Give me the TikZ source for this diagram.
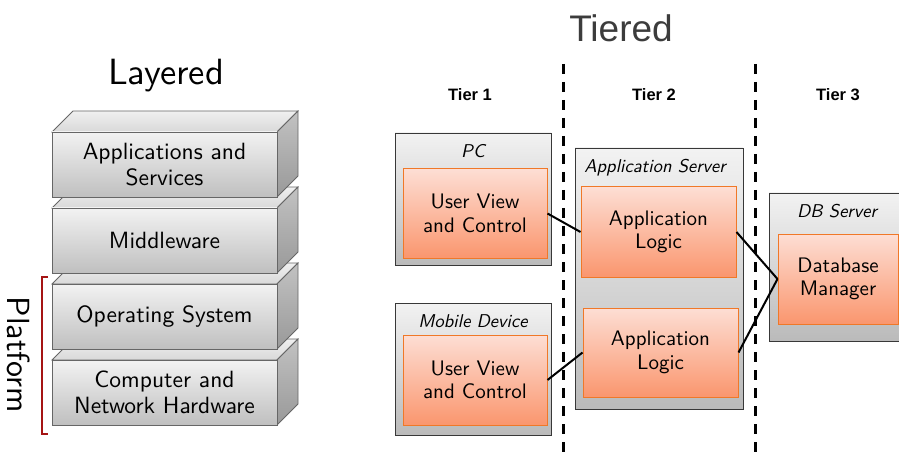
\documentclass[tikz,border=0pt]{standalone}
\usepackage{fontspec}
\setsansfont{lmsans10-regular.otf}[ItalicFont=lmsans10-oblique.otf, BoldFont=lmsans10-bold.otf]
\newfontfamily\arialf{Liberation Sans}
\usetikzlibrary{shadows}
\definecolor{orangetop}{RGB}{253,222,212}
\definecolor{orangebot}{RGB}{250,150,110}
\definecolor{orangeedge}{RGB}{240,120,40}
\definecolor{bracketred}{RGB}{165,20,20}
\definecolor{titlegray}{RGB}{60,60,60}
\tikzset{
  every node/.style={font=\sffamily},
  layerface/.style={draw=black!60, line width=0.8pt, top color=black!5, bottom color=black!25,
    minimum width=225pt, minimum height=65pt, align=center, inner sep=0pt,
    font=\sffamily\fontsize{23.5}{26}\selectfont},
  layertop/.style={draw=black!60, line width=0.8pt, top color=black!6, bottom color=black!15},
  layerside/.style={draw=black!60, line width=0.8pt, top color=black!24, bottom color=black!40},
  container/.style={draw=black!78, line width=0.9pt, top color=black!5, bottom color=black!27,
    drop shadow={shadow xshift=1.2pt, shadow yshift=-1.2pt, fill=black!40}},
  tierlabel/.style={font=\sffamily\itshape\fontsize{18.5}{20}\selectfont},
  component/.style={draw=orangeedge, line width=1pt, top color=orangetop, bottom color=orangebot,
    align=center, inner sep=0pt, font=\sffamily\fontsize{21}{23.5}\selectfont,
    drop shadow={shadow xshift=1.2pt, shadow yshift=-1.2pt, fill=black!35}},
  link/.style={line width=2pt, black},
  divider/.style={line width=3pt, dash pattern=on 10pt off 8pt},
  tiername/.style={font=\arialf\bfseries\fontsize{16.5}{18}\selectfont},
}
% one block of the layer stack: front face node plus its top and right faces
\newcommand{\stackblock}[3]{%
  \path[layertop] (52,#2) -- ++(21,-21) -- ++(225,0) -- ++(-21,21) -- cycle;
  \path[layerside] (277,#2) -- ++(21,-21) -- ++(0,65) -- ++(-21,21) -- cycle;
  \node[layerface] (#1) at (164.5,#2+32.5) {#3};
}
\begin{document}
\begin{tikzpicture}[x=1pt, y=-1pt]
\useasboundingbox (0,0) rectangle (899,457);

% ---------- layered stack ----------
\node (layered) at (166,76) {\fontsize{36.5}{38}\selectfont Layered};
\stackblock{hardware}{360}{Computer and\\Network Hardware}
\stackblock{os}{284}{Operating System}
\stackblock{middleware}{208}{Middleware}
\stackblock{apps}{132}{Applications and\\Services}

\coordinate (brtop) at (42,277);
\coordinate (brbot) at (42,434);
\draw[bracketred, line width=1.6pt] ([xshift=6pt]brtop) -- (brtop) -- (brbot) -- ([xshift=6pt]brbot);
\node[rotate=-90] (platform) at (19,355) {\fontsize{32}{34}\selectfont Platform};

% ---------- tiered layout ----------
\node[text=titlegray] (tiered) at (621,28) {\arialf\fontsize{37}{40}\selectfont Tiered};
\node[tiername] (t1) at (470,95) {Tier 1};
\node[tiername] (t2) at (654,95) {Tier 2};
\node[tiername] (t3) at (838,95) {Tier 3};

\coordinate (d1top) at (563,64);
\coordinate (d1bot) at (563,460);
\coordinate (d2top) at (755,64);
\coordinate (d2bot) at (755,460);
\draw[divider] (d1top) -- (d1bot);
\draw[divider] (d2top) -- (d2bot);

% tier 1 machines
\node[container, minimum width=156pt, minimum height=132pt] (pc) at (473,199) {};
\node[tierlabel] (pclabel) at (473,151) {PC};
\node[component, minimum width=144pt, minimum height=89pt] (uv1) at (475,213.5) {User View\\and Control};

\node[container, minimum width=156pt, minimum height=132pt] (mobile) at (473,369) {};
\node[tierlabel] (mobilelabel) at (473,321) {Mobile Device};
\node[component, minimum width=144pt, minimum height=90pt] (uv2) at (475,380) {User View\\and Control};

% tier 2 server
\node[container, minimum width=168pt, minimum height=261pt] (appserver) at (659,278.5) {};
\node[tierlabel] (appserverlabel) at (655,168) {Application Server};
\node[component, minimum width=155pt, minimum height=90pt] (al1) at (658.5,232) {Application\\Logic};
\node[component, minimum width=155pt, minimum height=89pt] (al2) at (660.5,352.5) {Application\\Logic};

% tier 3 server
\node[container, minimum width=140pt, minimum height=148pt] (dbserver) at (839,267) {};
\node[tierlabel] (dblabel) at (837,211) {DB Server};
\node[component, minimum width=120pt, minimum height=90pt] (dbm) at (838,279) {Database\\Manager};

% connections
\draw[link] (uv1.east) -- (al1.west);
\draw[link] (uv2.east) -- (al2.west);
\draw[link] (al1.east) -- (dbm.west);
\draw[link] (al2.east) -- (dbm.west);
\end{tikzpicture}
\end{document}
